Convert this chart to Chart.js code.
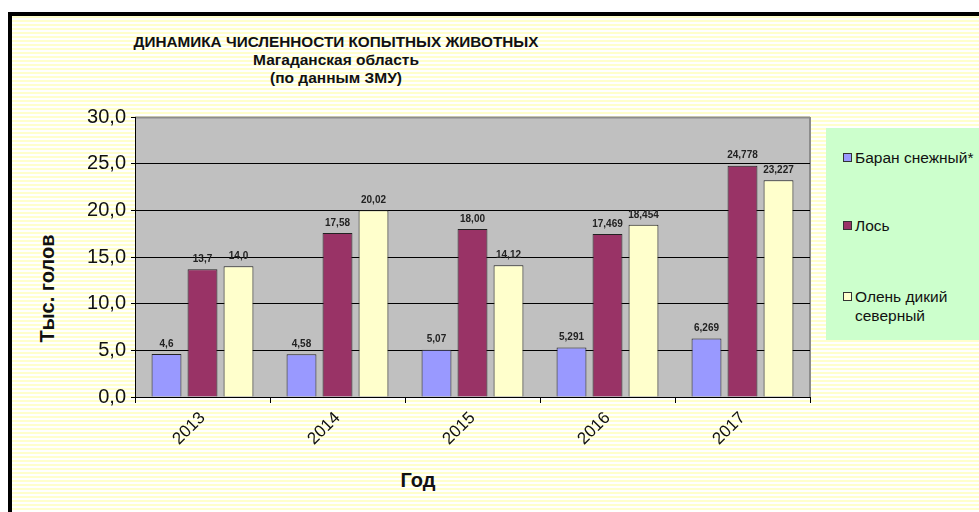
<!DOCTYPE html>
<html>
<head>
<meta charset="utf-8">
<script src="https://cdn.jsdelivr.net/npm/chart.js@4/dist/chart.umd.min.js"></script>
<style>
  html, body { margin:0; padding:0; }
  body {
    width:979px; height:512px; overflow:hidden; position:relative;
    background:#fff;
    font-family:"Liberation Sans", Arial, sans-serif;
  }
  #frame {
    position:absolute; left:8px; top:12px; width:990px; height:520px;
    border-left:4px solid #000; border-top:4px solid #000;
    background:repeating-linear-gradient(to bottom, #ffffcc 0px, #ffffcc 2px, #ffffff 2px, #ffffff 4px);
  }
  #chartWrap { position:absolute; left:0; top:0; width:979px; height:512px; }
  .ttl { position:absolute; font-weight:bold; color:#111; white-space:nowrap; transform:translateX(-50%); }
  #legend {
    position:absolute; left:826px; top:128px; width:160px; height:212px;
    background:#ccffcc;
  }
  .lg-item { position:absolute; left:17px; font-size:15.5px; line-height:19px; color:#111; }
  .lg-box { display:inline-block; width:7px; height:7px; border:1px solid #333; margin-right:3px; vertical-align:1px; }
  .lg-txt { display:inline-block; vertical-align:top; }
</style>
</head>
<body>
<div id="frame"></div>
<div class="ttl" style="left:336px;top:33px;font-size:15.3px;">ДИНАМИКА ЧИСЛЕННОСТИ КОПЫТНЫХ ЖИВОТНЫХ</div>
<div class="ttl" style="left:336px;top:51px;font-size:15.5px;">Магаданская область</div>
<div class="ttl" style="left:336px;top:69px;font-size:15.5px;">(по данным ЗМУ)</div>
<div class="ttl" style="left:47px;top:277px;font-size:20px;transform:translateX(-50%) rotate(-90deg);">Тыс. голов</div>
<div class="ttl" style="left:418px;top:469px;font-size:20px;">Год</div>
<div id="legend"></div>
<div id="chartWrap"><canvas id="c" width="979" height="512"></canvas></div>
<script>
// ── data ──
var years = ['2013', '2014', '2015', '2016', '2017'];
var seriesNames = ['Баран снежный*', 'Лось', 'Олень дикий северный'];
var baran = [4.6, 4.58, 5.07, 5.291, 6.269];
var los = [13.7, 17.58, 18.0, 17.469, 24.778];
var olen = [14.0, 20.02, 14.12, 18.454, 23.227];
var baranLbl = ['4,6', '4,58', '5,07', '5,291', '6,269'];
var losLbl = ['13,7', '17,58', '18,00', '17,469', '24,778'];
var olenLbl = ['14,0', '20,02', '14,12', '18,454', '23,227'];
var yTicks = ['0,0', '5,0', '10,0', '15,0', '20,0', '25,0', '30,0'];

var COLORS = ['#9999ff', '#993366', '#ffffcc'];
var LABELS = [baranLbl, losLbl, olenLbl];

var plotBg = {
    id: 'plotBg',
    beforeDraw: function(chart) {
        var a = chart.chartArea, ctx = chart.ctx;
        ctx.save();
        ctx.fillStyle = '#c0c0c0';
        ctx.fillRect(a.left, a.top, a.right - a.left, a.bottom - a.top);
        ctx.strokeStyle = '#8c8c8c';
        ctx.lineWidth = 2;
        ctx.beginPath();
        ctx.moveTo(a.left, a.top + 0.5); ctx.lineTo(a.right, a.top + 0.5);
        ctx.moveTo(a.right, a.top); ctx.lineTo(a.right, a.bottom);
        ctx.stroke();
        ctx.restore();
    }
};

var barValues = {
    id: 'barValues',
    afterDatasetsDraw: function(chart) {
        var ctx = chart.ctx;
        ctx.save();
        ctx.font = 'bold 10px "Liberation Sans", Arial, sans-serif';
        ctx.fillStyle = '#222';
        ctx.textAlign = 'center';
        ctx.textBaseline = 'bottom';
        chart.data.datasets.forEach(function(ds, i) {
            chart.getDatasetMeta(i).data.forEach(function(bar, j) {
                ctx.fillText(LABELS[i][j], bar.x, bar.y - 5);
            });
        });
        ctx.restore();
    }
};

var chart = new Chart(document.getElementById('c'), {
    type: 'bar',
    data: {
        labels: years,
        datasets: [baran, los, olen].map(function(d, i) {
            return {
                label: seriesNames[i], data: d,
                backgroundColor: COLORS[i], borderColor: '#222', borderWidth: 1,
                categoryPercentage: 0.8, barPercentage: 0.83
            };
        })
    },
    options: {
        responsive: false, animation: false,
        layout: { padding: { left: 0, top: 117, right: 169, bottom: 0 } },
        plugins: { legend: { display: false }, title: { display: false }, tooltip: { enabled: false } },
        scales: {
            y: {
                min: 0, max: 30,
                afterFit: function(s) { s.width = 135; },
                ticks: {
                    stepSize: 5, padding: 5, color: '#111',
                    font: { family: '"Liberation Sans", Arial, sans-serif', size: 20 },
                    callback: function(v, idx) { return yTicks[idx]; }
                },
                grid: {
                    tickLength: 4,
                    color: function(c) { return c.tick && c.tick.value === 30 ? 'rgba(0,0,0,0)' : '#000'; },
                    tickColor: '#000'
                },
                border: { color: '#000', width: 1 }
            },
            x: {
                afterFit: function(s) { s.height = 115; },
                ticks: {
                    minRotation: 45, maxRotation: 45, padding: 5, color: '#111',
                    font: { family: '"Liberation Sans", Arial, sans-serif', size: 17 }
                },
                grid: { drawOnChartArea: false, tickLength: 6, color: '#000', offset: true },
                border: { color: '#000', width: 1 }
            }
        }
    },
    plugins: [plotBg, barValues]
});

// legend built from the datasets
var lg = document.getElementById('legend');
var tops = [20, 88, 159];
chart.data.datasets.forEach(function(ds, i) {
    var words = ds.label === 'Олень дикий северный' ? 'Олень дикий<br>северный' : ds.label;
    lg.innerHTML += '<div class="lg-item" style="top:' + tops[i] + 'px"><span class="lg-box" style="background:' + ds.backgroundColor + '"></span><span class="lg-txt">' + words + '</span></div>';
});
</script>
</body>
</html>
